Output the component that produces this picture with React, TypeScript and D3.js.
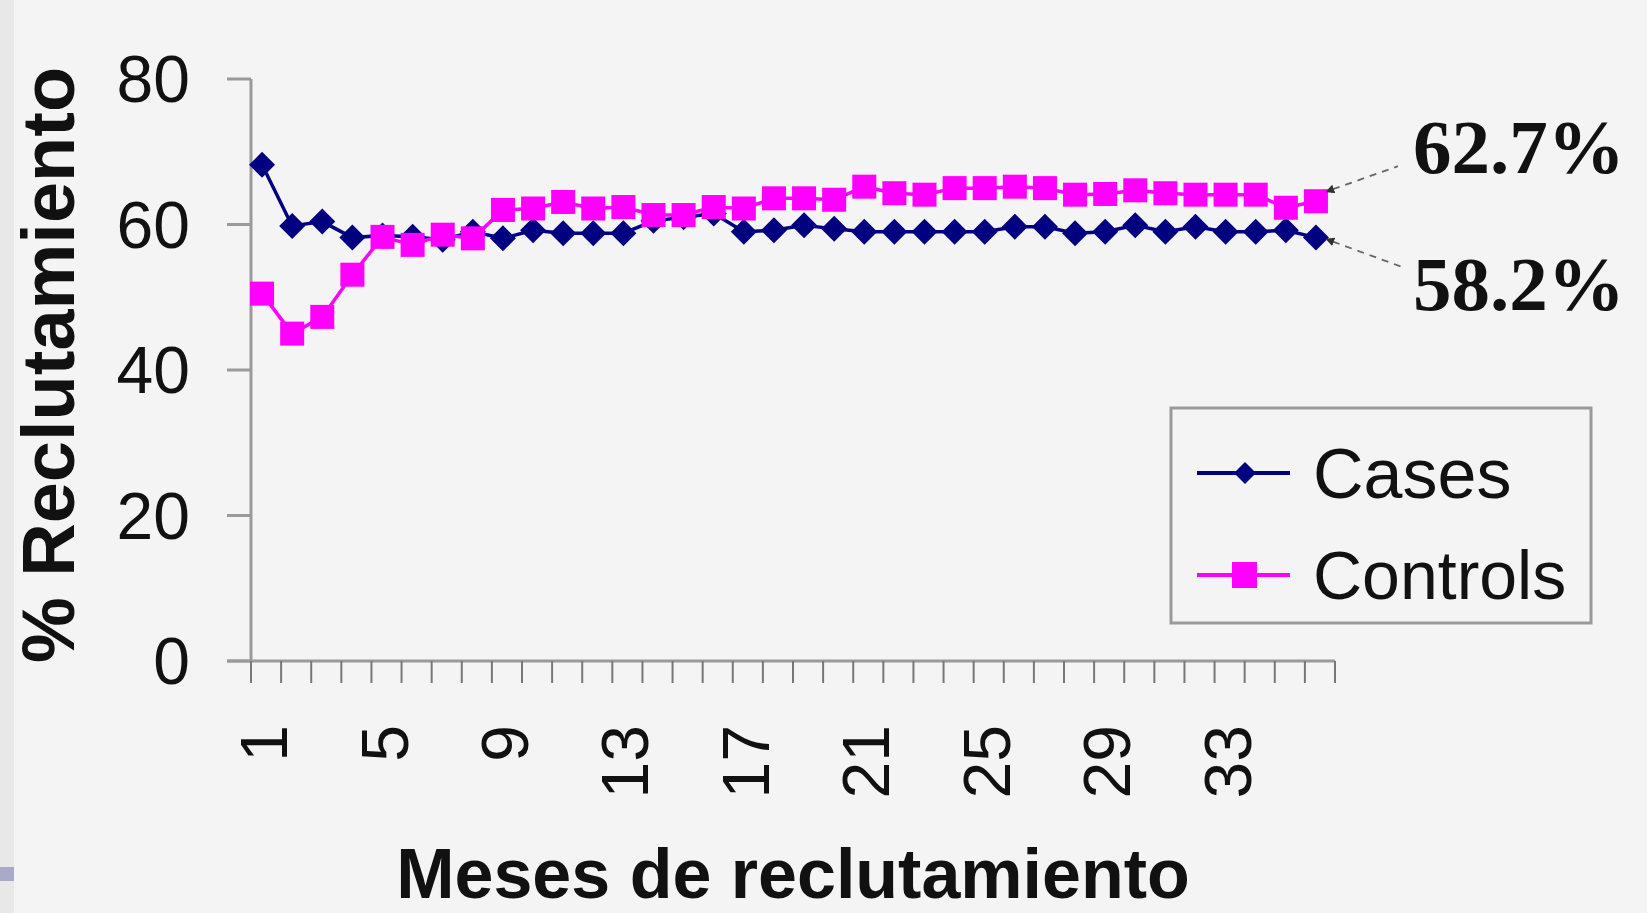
import React from 'react';
import * as d3 from 'd3';

// Meses de reclutamiento 1..36
const months = d3.range(1, 37);
const cases = [68.2, 59.8, 60.4, 58.2, 58.5, 58.3, 57.9, 59.0, 58.1, 59.2, 58.8, 58.8, 58.8, 60.5, 61.0, 61.5, 59.0, 59.2, 59.9, 59.4, 59.0, 59.0, 59.0, 59.0, 59.0, 59.7, 59.7, 58.8, 59.0, 59.9, 59.0, 59.7, 59.0, 59.0, 59.2, 58.2];
const controls = [50.5, 45.0, 47.3, 53.1, 58.3, 57.2, 58.6, 58.1, 62.0, 62.2, 63.1, 62.2, 62.4, 61.3, 61.3, 62.4, 62.2, 63.6, 63.6, 63.4, 65.2, 64.3, 64.1, 65.0, 65.0, 65.2, 65.0, 64.1, 64.2, 64.7, 64.3, 64.1, 64.1, 64.1, 62.3, 63.2];
const yTicks = [0, 20, 40, 60, 80];
const xLabels = [1, 5, 9, 13, 17, 21, 25, 29, 33];
const endLabels = ['62.7%', '58.2%'];

const W = 1647;
const H = 913;
const sans = '"Liberation Sans", Arial, sans-serif';
const serif = '"Liberation Serif", "Times New Roman", serif';
const axisColor = '#9a9a9a';
const casesColor = '#000080';
const controlsColor = '#ff00ff';

const App: React.FC = () => {
  const x = d3.scaleBand<number>().domain(months).range([251, 1335]).padding(0);
  const y = d3.scaleLinear().domain([0, 80]).range([661, 79]);
  const cx = (m: number) => (x(m) as number) + x.bandwidth() / 2 - 4;

  const line = d3.line<number>()
    .x((_, i) => cx(months[i]))
    .y(d => y(d));

  const diamond = (px: number, py: number, r: number) =>
    `M${px},${py - r}L${px + r},${py}L${px},${py + r}L${px - r},${py}Z`;

  const last = months[months.length - 1];
  const lx = cx(last);
  const yc = y(controls[controls.length - 1]);
  const yk = y(cases[cases.length - 1]);

  return (
    <svg width={W} height={H} style={{ position: 'absolute', left: 0, top: 0, background: '#f4f4f4' }}>
      <defs>
        <marker id="arr" viewBox="0 0 10 10" refX="1" refY="5" markerWidth="5" markerHeight="5" orient="auto-start-reverse">
          <path d="M0,0L10,5L0,10Z" fill="#333" />
        </marker>
      </defs>
      <rect x={0} y={0} width={14} height={H} fill="#e8e8e8" />
      <rect x={0} y={867} width={14} height={14} fill="#a9aac8" />

      {/* axe Y */}
      <line x1={251} x2={251} y1={y(80)} y2={y(0)} stroke={axisColor} strokeWidth={3} />
      {yTicks.map(t => (
        <g key={t}>
          <line x1={227} x2={251} y1={y(t)} y2={y(t)} stroke={axisColor} strokeWidth={3} />
          <text x={190} y={y(t)} dy="0.35em" textAnchor="end" fontFamily={sans} fontSize={66} fill="#111">{t}</text>
        </g>
      ))}
      <text transform={`translate(74,365) rotate(-90)`} textAnchor="middle" fontFamily={sans} fontWeight="bold" fontSize={74} fill="#111">% Reclutamiento</text>

      {/* axe X */}
      <line x1={227} x2={1335} y1={y(0)} y2={y(0)} stroke={axisColor} strokeWidth={3} />
      {months.concat([last + 1]).map((m, i) => {
        const tx = i < months.length ? (x(m) as number) : 1335;
        return <line key={i} x1={tx} x2={tx} y1={y(0)} y2={y(0) + 22} stroke="#777" strokeWidth={2} />;
      })}
      {xLabels.map(m => (
        <text key={m} transform={`translate(${cx(m) + 2},725) rotate(-90)`} textAnchor="end" dy="0.35em" fontFamily={sans} fontSize={66} fill="#111">{m}</text>
      ))}
      <text x={793} y={898} textAnchor="middle" fontFamily={sans} fontWeight="bold" fontSize={70} fill="#111">Meses de reclutamiento</text>

      {/* séries */}
      <path d={line(cases) || ''} fill="none" stroke={casesColor} strokeWidth={3.5} />
      {cases.map((v, i) => (
        <path key={i} d={diamond(cx(months[i]), y(v), 13)} fill={casesColor} />
      ))}
      <path d={line(controls) || ''} fill="none" stroke={controlsColor} strokeWidth={3.5} />
      {controls.map((v, i) => (
        <rect key={i} x={cx(months[i]) - 12} y={y(v) - 12} width={24} height={24} fill={controlsColor} />
      ))}

      {/* étiquettes finales */}
      <line x1={lx + 17} y1={yc - 12} x2={lx + 82} y2={yc - 35} stroke="#666" strokeWidth={1.8} strokeDasharray="7,6" markerStart="url(#arr)" />
      <text x={1413} y={173} fontFamily={serif} fontWeight="bold" fontSize={77} fill="#111">{endLabels[0]}</text>
      <line x1={lx + 17} y1={yk + 4} x2={lx + 85} y2={yk + 29} stroke="#666" strokeWidth={1.8} strokeDasharray="7,6" markerStart="url(#arr)" />
      <text x={1413} y={310} fontFamily={serif} fontWeight="bold" fontSize={77} fill="#111">{endLabels[1]}</text>

      {/* légende */}
      <rect x={1171} y={408} width={420} height={215} fill="#f4f4f4" stroke={axisColor} strokeWidth={3} />
      <line x1={1197} x2={1290} y1={473} y2={473} stroke={casesColor} strokeWidth={4} />
      <path d={diamond(1245, 473, 11)} fill={casesColor} />
      <text x={1313} y={473} dy="0.35em" fontFamily={sans} fontSize={70} fill="#111">Cases</text>
      <line x1={1197} x2={1290} y1={575} y2={575} stroke={controlsColor} strokeWidth={4} />
      <rect x={1232} y={562} width={25} height={26} fill={controlsColor} />
      <text x={1313} y={575} dy="0.35em" fontFamily={sans} fontSize={68} fill="#111">Controls</text>
    </svg>
  );
};

export default App;
